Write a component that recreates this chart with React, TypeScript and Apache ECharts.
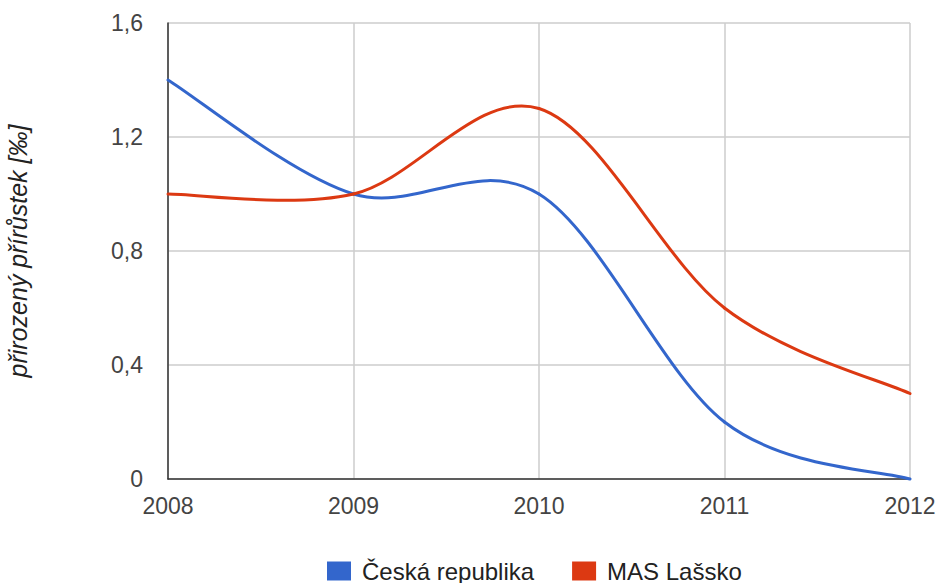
import React, { useEffect, useRef } from "react";
import * as echarts from "echarts";

const years = [2008, 2009, 2010, 2011, 2012];
const ceskaRepublika = [1.4, 1.0, 1.0, 0.2, 0.0];
const masLassko = [1.0, 1.0, 1.3, 0.6, 0.3];
const seriesNames = ["Česká republika", "MAS Lašsko"];
const seriesColors = ["#3366cc", "#dc3912"];
const yTicks = { min: 0, max: 1.6, interval: 0.4 };

function splineSeries(name: string, values: number[], color: string) {
  return {
    name,
    type: "custom",
    data: years.map((y, i) => [y, values[i]]),
    encode: { x: 0, y: 1 },
    itemStyle: { color },
    clip: false,
    renderItem: (params: any, api: any) => {
      if (params.dataIndex !== 0) return null;
      const pts = years.map((y, i) => api.coord([y, values[i]]));
      const n = pts.length;
      const children: any[] = [];
      for (let i = 0; i < n - 1; i++) {
        const p0 = pts[Math.max(i - 1, 0)];
        const p1 = pts[i];
        const p2 = pts[i + 1];
        const p3 = pts[Math.min(i + 2, n - 1)];
        children.push({
          type: "bezierCurve",
          shape: {
            x1: p1[0],
            y1: p1[1],
            cpx1: p1[0] + (p2[0] - p0[0]) / 6,
            cpy1: p1[1] + (p2[1] - p0[1]) / 6,
            cpx2: p2[0] - (p3[0] - p1[0]) / 6,
            cpy2: p2[1] - (p3[1] - p1[1]) / 6,
            x2: p2[0],
            y2: p2[1],
          },
          style: { fill: "none", stroke: color, lineWidth: 3, lineCap: "round" },
        });
      }
      return { type: "group", children };
    },
  };
}

export default function App() {
  const ref = useRef<HTMLDivElement>(null);
  useEffect(() => {
    const chart = echarts.init(ref.current!, null, { renderer: "svg" });
    const font = "Arial, 'Liberation Sans', sans-serif";
    chart.setOption({
      animation: false,
      color: seriesColors,
      textStyle: { fontFamily: font },
      grid: { left: 168, right: 28, top: 23, bottom: 104, containLabel: false, outerBoundsMode: "none" },
      legend: {
        left: 327,
        top: 559,
        padding: 0,
        icon: "rect",
        itemWidth: 24,
        itemHeight: 19,
        itemGap: 38,
        textStyle: { fontSize: 24, color: "#222", fontFamily: font, padding: [0, 0, 0, 6] },
        data: seriesNames,
      },
      xAxis: {
        type: "value",
        min: years[0],
        max: years[years.length - 1],
        interval: 1,
        axisLine: { show: true, lineStyle: { color: "#333", width: 1.5 } },
        axisTick: { show: false },
        splitLine: { show: true, lineStyle: { color: "#cccccc", width: 1.5 } },
        axisLabel: { fontSize: 23, color: "#444", margin: 15, formatter: (v: number) => String(v) },
      },
      yAxis: {
        type: "value",
        min: yTicks.min,
        max: yTicks.max,
        interval: yTicks.interval,
        name: "přirozený přírůstek [‰]",
        nameLocation: "middle",
        nameRotate: 90,
        nameGap: 138,
        nameTextStyle: { fontSize: 25, fontStyle: "italic", color: "#222" },
        axisLine: { show: true, lineStyle: { color: "#333", width: 1.5 } },
        axisTick: { show: false },
        splitLine: { show: true, lineStyle: { color: "#cccccc", width: 1.5 } },
        axisLabel: {
          fontSize: 23,
          color: "#444",
          margin: 25,
          formatter: (v: number) => String(Math.round(v * 10) / 10).replace(".", ","),
        },
      },
      series: [
        splineSeries(seriesNames[0], ceskaRepublika, seriesColors[0]),
        splineSeries(seriesNames[1], masLassko, seriesColors[1]),
      ],
    });
    return () => chart.dispose();
  }, []);
  return (
    <div
      ref={ref}
      style={{ position: "absolute", left: 0, top: 0, width: 938, height: 583, background: "#fff" }}
    />
  );
}
